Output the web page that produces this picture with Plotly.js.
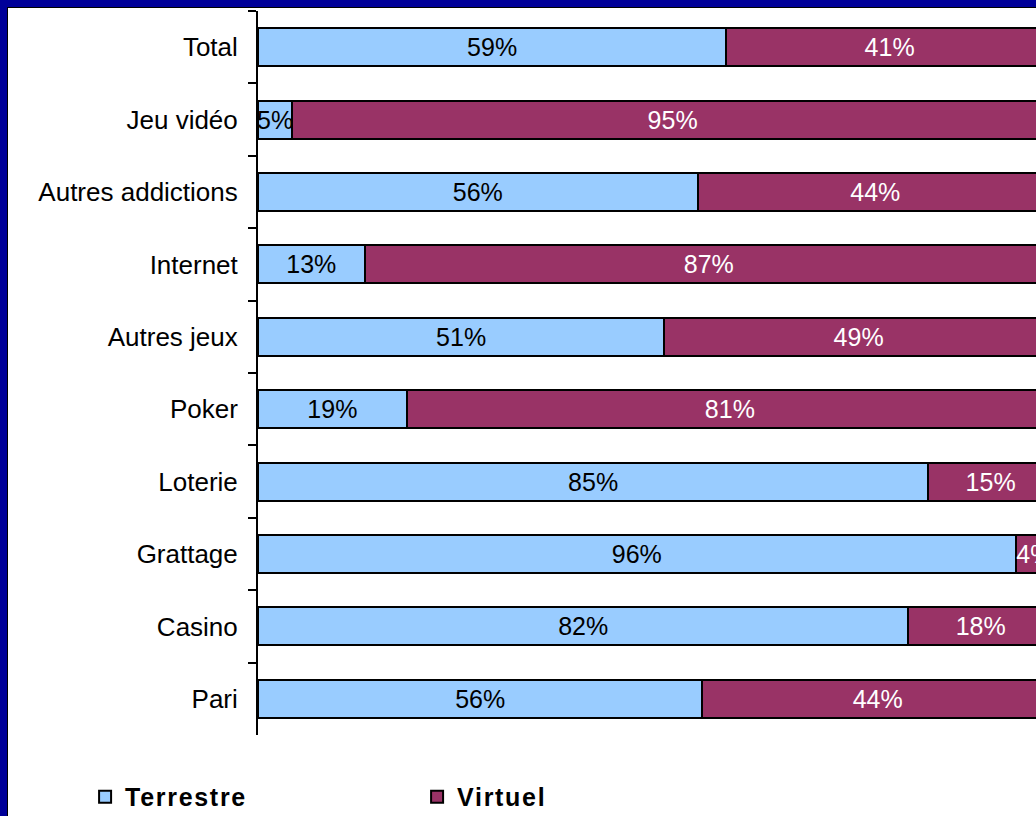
<!DOCTYPE html>
<html>
<head>
<meta charset="utf-8">
<script src="https://cdn.plot.ly/plotly-3.0.1.min.js"></script>
<style>
  html, body { margin: 0; padding: 0; background: #000099; overflow: hidden; width: 1036px; height: 816px; }
  #frame { position: absolute; left: 7px; top: 7px; width: 1100px; height: 900px; background: #ffffff;
           border-left: 1px solid #000; border-top: 1px solid #000; }
  #chart { position: absolute; left: 0; top: 0; width: 1075px; height: 830px; }
  .legendtext { letter-spacing: 1.7px; }
</style>
</head>
<body>
<div id="frame"><div id="chart"></div></div>
<script>
// Categories, top to bottom
const categories = ["Total", "Jeu vidéo", "Autres addictions", "Internet", "Autres jeux",
                    "Poker", "Loterie", "Grattage", "Casino", "Pari"];
// Share (%)
const terrestre = [58.9, 4.3, 55.3, 13.4, 51.1, 18.7, 84.3, 95.3, 81.8, 55.9];
const virtuel   = [41.1, 95.7, 44.7, 86.6, 48.9, 81.3, 15.7, 4.7, 18.2, 44.1];
// Printed data labels
const terrestreLabels = ["59%", "5%", "56%", "13%", "51%", "19%", "85%", "96%", "82%", "56%"];
const virtuelLabels   = ["41%", "95%", "44%", "87%", "49%", "81%", "15%", "4%", "18%", "44%"];
const seriesNames = ["Terrestre", "Virtuel"];

const FONT = "Liberation Sans, Arial, sans-serif";

const traces = [
  {
    type: "bar", orientation: "h", name: seriesNames[0],
    y: categories, x: terrestre, text: terrestreLabels,
    textposition: "inside", insidetextanchor: "middle", constraintext: "none", textangle: 0,
    textfont: { family: FONT, size: 25, color: "#000000" },
    marker: { color: "#99ccff", line: { color: "#000000", width: 2 } },
    hoverinfo: "skip"
  },
  {
    type: "bar", orientation: "h", name: seriesNames[1],
    y: categories, x: virtuel, text: virtuelLabels,
    textposition: "inside", insidetextanchor: "middle", constraintext: "none", textangle: 0,
    textfont: { family: FONT, size: 25, color: "#ffffff" },
    marker: { color: "#993366", line: { color: "#000000", width: 2 } },
    hoverinfo: "skip"
  }
];

const layout = {
  width: 1075, height: 830,
  margin: { l: 250, r: 30, t: 3, b: 103 },
  paper_bgcolor: "#ffffff", plot_bgcolor: "#ffffff",
  barmode: "stack", bargap: 0.475,
  font: { family: FONT, size: 25, color: "#000000" },
  xaxis: { range: [0, 100], visible: false, fixedrange: true },
  yaxis: {
    type: "category", autorange: "reversed",
    showline: true, linecolor: "#000000", linewidth: 2,
    ticks: "outside", tickson: "boundaries", ticklen: 8, tickwidth: 2, tickcolor: "#000000",
    ticklabelstandoff: 13,
    tickfont: { family: FONT, size: 26, color: "#000000" },
    showgrid: false, zeroline: false, fixedrange: true
  },
  showlegend: true,
  legend: {
    orientation: "h", x: -0.2175, xanchor: "left", y: -0.0856, yanchor: "middle",
    font: { family: FONT, size: 25, color: "#000000", weight: "bold" },
    entrywidth: 287, entrywidthmode: "pixels", traceorder: "normal",
    bgcolor: "rgba(0,0,0,0)", borderwidth: 0
  },
  hovermode: false
};

Plotly.newPlot("chart", traces, layout, { displayModeBar: false, staticPlot: true });
</script>
</body>
</html>
